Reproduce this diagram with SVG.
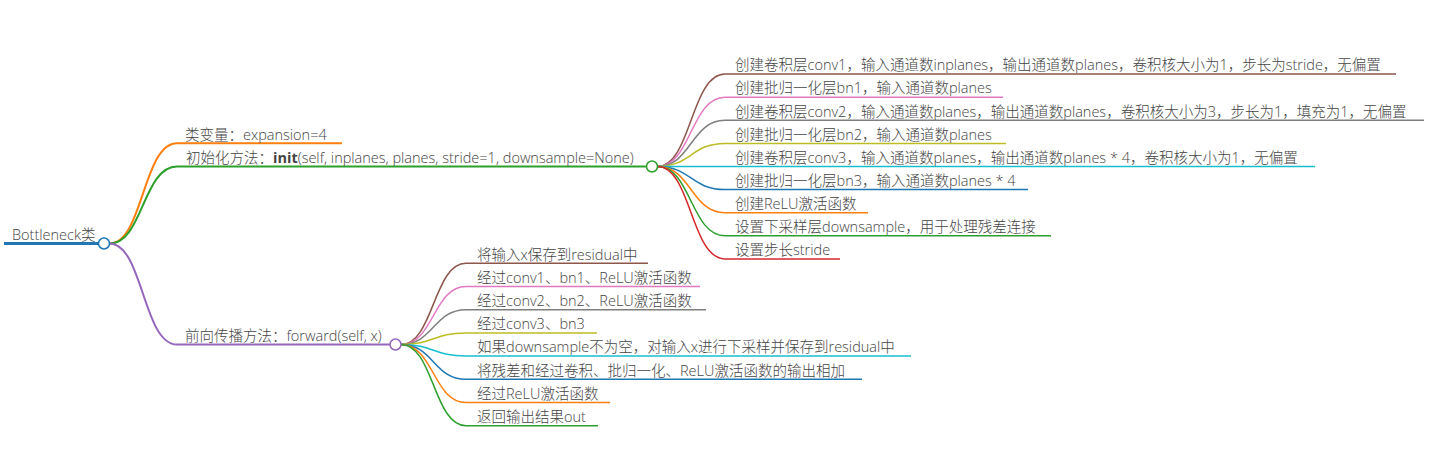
<svg xmlns="http://www.w3.org/2000/svg" width="1429" height="463" viewBox="0 0 1429 463">
<style>
  text { font-family: "Open Sans", "Noto Sans CJK SC", sans-serif; font-size: 14.5px; font-weight: 300; fill: #444; }
  .b { font-weight: bold; }
  .link { fill: none; stroke-width: 1.5; }
  .l1 { fill: none; stroke-width: 2; }
  .ul { stroke-width: 1.5; }
  .ul1 { stroke-width: 2; }
  .dot { fill: #fff; stroke-width: 1.5; }
  .c-blue { stroke: #1f77b4; }
  .c-orange { stroke: #ff7f0e; }
  .c-green { stroke: #2ca02c; }
  .c-red { stroke: #d62728; }
  .c-purple { stroke: #9467bd; }
  .c-brown { stroke: #8c564b; }
  .c-pink { stroke: #e377c2; }
  .c-gray { stroke: #7f7f7f; }
  .c-olive { stroke: #bcbd22; }
  .c-cyan { stroke: #17becf; }
</style>
<g id="connectors">
  <path class="l1 c-orange" d="M109.5 243.5 C143 243.5 143 143.3 177 143.3"/>
  <path class="l1 c-green" d="M109.5 243.5 C143 243.5 143 166.5 177 166.5"/>
  <path class="l1 c-purple" d="M109.5 243.5 C143 243.5 143 344.5 177 344.5"/>
  <path class="link c-brown" d="M657.5 166.5 C691 166.5 691 74 725 74"/>
  <path class="link c-pink" d="M657.5 166.5 C691 166.5 691 97.2 725 97.2"/>
  <path class="link c-gray" d="M657.5 166.5 C691 166.5 691 120.3 725 120.3"/>
  <path class="link c-olive" d="M657.5 166.5 C691 166.5 691 143.4 725 143.4"/>
  <path class="link c-cyan" d="M657.5 166.5 C691 166.5 691 166.5 725 166.5"/>
  <path class="link c-blue" d="M657.5 166.5 C691 166.5 691 189.6 725 189.6"/>
  <path class="link c-orange" d="M657.5 166.5 C691 166.5 691 212.7 725 212.7"/>
  <path class="link c-green" d="M657.5 166.5 C691 166.5 691 235.8 725 235.8"/>
  <path class="link c-red" d="M657.5 166.5 C691 166.5 691 258.9 725 258.9"/>
  <path class="link c-brown" d="M401 344.5 C433.5 344.5 433.5 263.3 466 263.3"/>
  <path class="link c-pink" d="M401 344.5 C433.5 344.5 433.5 286.5 466 286.5"/>
  <path class="link c-gray" d="M401 344.5 C433.5 344.5 433.5 309.7 466 309.7"/>
  <path class="link c-olive" d="M401 344.5 C433.5 344.5 433.5 332.9 466 332.9"/>
  <path class="link c-cyan" d="M401 344.5 C433.5 344.5 433.5 356.1 466 356.1"/>
  <path class="link c-blue" d="M401 344.5 C433.5 344.5 433.5 379.3 466 379.3"/>
  <path class="link c-orange" d="M401 344.5 C433.5 344.5 433.5 402.5 466 402.5"/>
  <path class="link c-green" d="M401 344.5 C433.5 344.5 433.5 425.7 466 425.7"/>
</g>
<g id="root">
  <line class="c-blue" x1="4" y1="243.5" x2="98.5" y2="243.5" stroke-width="3"/>
  <text x="12" y="239.5">Bottleneck类</text>
  <circle class="dot c-blue" cx="104" cy="243.5" r="5.5"/>
</g>
<g id="n-expansion">
  <line class="ul1 c-orange" x1="177" y1="143.3" x2="342" y2="143.3"/>
  <text x="185" y="139.5">类变量：expansion=4</text>
</g>
<g id="n-init">
  <line class="ul1 c-green" x1="177" y1="166.5" x2="646.5" y2="166.5"/>
  <text x="186" y="162.7">初始化方法：<tspan class="b">init</tspan>(self, inplanes, planes, stride=1, downsample=None)</text>
  <circle class="dot c-green" cx="652" cy="166.5" r="5.5"/>
</g>
<g id="n-forward">
  <line class="ul1 c-purple" x1="177" y1="344.5" x2="390" y2="344.5"/>
  <text x="185" y="340.7">前向传播方法：forward(self, x)</text>
  <circle class="dot c-purple" cx="395.5" cy="344.5" r="5.5"/>
</g>
<g id="n-init-1"><line class="ul c-brown" x1="725" y1="74" x2="1396" y2="74"/><text x="735" y="70.2">创建卷积层conv1，输入通道数inplanes，输出通道数planes，卷积核大小为1，步长为stride，无偏置</text></g>
<g id="n-init-2"><line class="ul c-pink" x1="725" y1="97.2" x2="1003" y2="97.2"/><text x="735" y="93.4">创建批归一化层bn1，输入通道数planes</text></g>
<g id="n-init-3"><line class="ul c-gray" x1="725" y1="120.3" x2="1424" y2="120.3"/><text x="735" y="116.5">创建卷积层conv2，输入通道数planes，输出通道数planes，卷积核大小为3，步长为1，填充为1，无偏置</text></g>
<g id="n-init-4"><line class="ul c-olive" x1="725" y1="143.4" x2="1006" y2="143.4"/><text x="735" y="139.6">创建批归一化层bn2，输入通道数planes</text></g>
<g id="n-init-5"><line class="ul c-cyan" x1="725" y1="166.5" x2="1315" y2="166.5"/><text x="735" y="162.7">创建卷积层conv3，输入通道数planes，输出通道数planes * 4，卷积核大小为1，无偏置</text></g>
<g id="n-init-6"><line class="ul c-blue" x1="725" y1="189.6" x2="1028" y2="189.6"/><text x="735" y="185.8">创建批归一化层bn3，输入通道数planes * 4</text></g>
<g id="n-init-7"><line class="ul c-orange" x1="725" y1="212.7" x2="868" y2="212.7"/><text x="735" y="208.9">创建ReLU激活函数</text></g>
<g id="n-init-8"><line class="ul c-green" x1="725" y1="235.8" x2="1051" y2="235.8"/><text x="735" y="232">设置下采样层downsample，用于处理残差连接</text></g>
<g id="n-init-9"><line class="ul c-red" x1="725" y1="258.9" x2="840" y2="258.9"/><text x="735" y="255.1">设置步长stride</text></g>
<g id="n-fwd-1"><line class="ul c-brown" x1="466" y1="263.3" x2="648" y2="263.3"/><text x="477" y="259.5">将输入x保存到residual中</text></g>
<g id="n-fwd-2"><line class="ul c-pink" x1="466" y1="286.5" x2="700" y2="286.5"/><text x="477" y="282.7">经过conv1、bn1、ReLU激活函数</text></g>
<g id="n-fwd-3"><line class="ul c-gray" x1="466" y1="309.7" x2="706" y2="309.7"/><text x="477" y="305.9">经过conv2、bn2、ReLU激活函数</text></g>
<g id="n-fwd-4"><line class="ul c-olive" x1="466" y1="332.9" x2="597" y2="332.9"/><text x="477" y="329.1">经过conv3、bn3</text></g>
<g id="n-fwd-5"><line class="ul c-cyan" x1="466" y1="356.1" x2="911" y2="356.1"/><text x="477" y="352.3">如果downsample不为空，对输入x进行下采样并保存到residual中</text></g>
<g id="n-fwd-6"><line class="ul c-blue" x1="466" y1="379.3" x2="862" y2="379.3"/><text x="477" y="375.5">将残差和经过卷积、批归一化、ReLU激活函数的输出相加</text></g>
<g id="n-fwd-7"><line class="ul c-orange" x1="466" y1="402.5" x2="610" y2="402.5"/><text x="477" y="398.7">经过ReLU激活函数</text></g>
<g id="n-fwd-8"><line class="ul c-green" x1="466" y1="425.7" x2="598" y2="425.7"/><text x="477" y="421.9">返回输出结果out</text></g>
</svg>
